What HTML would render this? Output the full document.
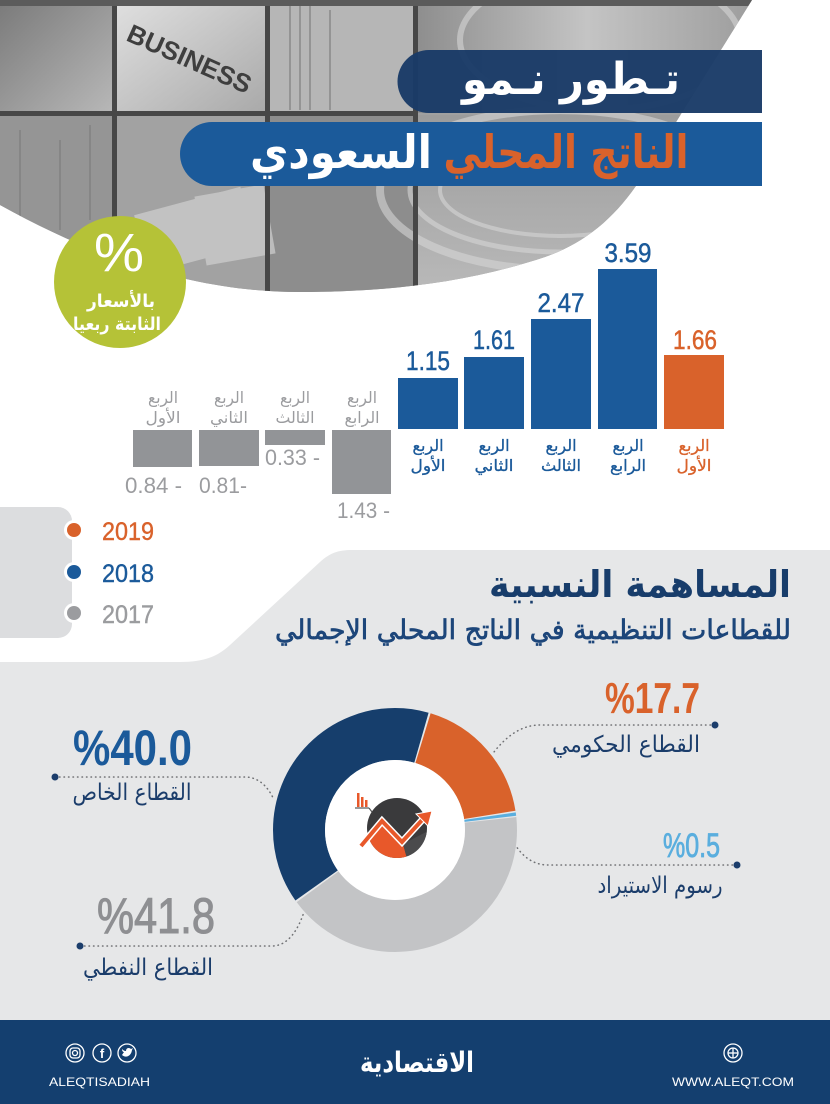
<!DOCTYPE html>
<html>
<head>
<meta charset="utf-8">
<style>
html,body{margin:0;padding:0;background:#ffffff;}
svg{display:block;}
.ar{font-family:"DejaVu Sans","Liberation Sans",sans-serif;}
.nm{font-family:"Liberation Sans","DejaVu Sans",sans-serif;}
</style>
</head>
<body>
<svg width="830" height="1104" viewBox="0 0 830 1104" xmlns="http://www.w3.org/2000/svg">
<defs>
  <clipPath id="ph"><path d="M0,0 H752 L640,180 C615,218 585,243 545,257 C470,282 390,292 300,292 C190,292 90,255 0,205 Z"/></clipPath>
  <linearGradient id="g1" x1="0" y1="0" x2="1" y2="1"><stop offset="0" stop-color="#7a7a7a"/><stop offset="1" stop-color="#b8b8b8"/></linearGradient>
  <linearGradient id="g2" x1="0" y1="0" x2="1" y2="1"><stop offset="0" stop-color="#e0e0e0"/><stop offset="1" stop-color="#a9a9a9"/></linearGradient>
  <linearGradient id="g3" x1="0" y1="0" x2="1" y2="0"><stop offset="0" stop-color="#8e8e8e"/><stop offset="0.5" stop-color="#c4c4c4"/><stop offset="1" stop-color="#9c9c9c"/></linearGradient>
  <linearGradient id="g4" x1="0" y1="0" x2="0" y2="1"><stop offset="0" stop-color="#9c9c9c"/><stop offset="1" stop-color="#bdbdbd"/></linearGradient>
  <clipPath id="ic"><circle cx="397" cy="828" r="30"/></clipPath>
</defs>

<!-- PHOTO HEADER -->
<g clip-path="url(#ph)">
  <rect x="0" y="0" width="830" height="300" fill="#a0a0a0"/>
  <rect x="0" y="0" width="114" height="113" fill="url(#g1)"/>
  <rect x="116" y="0" width="150" height="113" fill="url(#g2)"/>
  <rect x="268" y="0" width="147" height="113" fill="#b6b6b6"/>
  <rect x="417" y="0" width="340" height="113" fill="url(#g3)"/>
  <rect x="0" y="115" width="114" height="200" fill="#959595"/>
  <rect x="116" y="115" width="150" height="200" fill="#a2a2a2"/>
  <rect x="268" y="115" width="147" height="200" fill="#8d8d8d"/>
  <rect x="417" y="115" width="340" height="200" fill="url(#g4)"/>
  <g fill="none" stroke="#d6d6d6" opacity="0.6">
    <ellipse cx="560" cy="190" rx="180" ry="80" stroke-width="8"/>
    <ellipse cx="560" cy="190" rx="150" ry="62" stroke-width="5"/>
    <ellipse cx="560" cy="190" rx="120" ry="46" stroke-width="4"/>
    <ellipse cx="600" cy="40" rx="140" ry="70" stroke-width="6"/>
  </g>
  <g fill="none" stroke="#7e7e7e" stroke-width="2" opacity="0.6">
    <line x1="290" y1="0" x2="290" y2="110"/><line x1="300" y1="0" x2="300" y2="110"/>
    <line x1="310" y1="0" x2="310" y2="110"/><line x1="330" y1="10" x2="330" y2="110"/>
    <line x1="20" y1="130" x2="20" y2="230"/><line x1="60" y1="140" x2="60" y2="230"/>
    <line x1="90" y1="125" x2="90" y2="220"/>
  </g>
  <g fill="#d0d0d0" opacity="0.7">
    <rect x="140" y="200" width="110" height="60" transform="rotate(-15 195 230)"/>
    <rect x="200" y="190" width="70" height="70" transform="rotate(-10 235 225)"/>
  </g>
  <text x="125" y="40" class="nm" font-size="26" font-weight="bold" fill="#3e3e3e" transform="rotate(24 125 40)">BUSINESS</text>
  <rect x="112" y="0" width="5" height="300" fill="#474747"/>
  <rect x="265" y="0" width="5" height="300" fill="#474747"/>
  <rect x="413" y="0" width="5" height="300" fill="#474747"/>
  <rect x="0" y="111" width="418" height="5" fill="#474747"/>
  <rect x="0" y="0" width="760" height="6" fill="#5b5b5b"/>
</g>

<!-- TITLE BARS -->
<path d="M429,50 H762 V113 H429 A31.5,31.5 0 0 1 429,50 Z" fill="#193a67" opacity="0.96"/>
<text x="571" y="94" class="ar" font-size="44" font-weight="bold" fill="#ffffff" text-anchor="middle" textLength="218" lengthAdjust="spacingAndGlyphs">تـطور نـمو</text>
<path d="M212,122 H762 V186 H212 A32,32 0 0 1 212,122 Z" fill="#1b5a9a"/>
<text x="341" y="168" class="ar" font-size="46" font-weight="bold" fill="#ffffff" text-anchor="middle" textLength="182" lengthAdjust="spacingAndGlyphs">السعودي</text>
<text x="566" y="168" class="ar" font-size="46" font-weight="bold" fill="#d9622b" text-anchor="middle" textLength="245" lengthAdjust="spacingAndGlyphs">الناتج المحلي</text>

<!-- GREEN CIRCLE -->
<circle cx="120" cy="282" r="66" fill="#b5c237"/>
<text x="119" y="271" class="nm" font-size="54" fill="#ffffff" text-anchor="middle" textLength="50" lengthAdjust="spacingAndGlyphs">%</text>
<text x="121" y="307" class="ar" font-size="18" font-weight="bold" fill="#ffffff" text-anchor="middle" textLength="68" lengthAdjust="spacingAndGlyphs">بالأسعار</text>
<text x="117" y="330" class="ar" font-size="18" font-weight="bold" fill="#ffffff" text-anchor="middle" textLength="88" lengthAdjust="spacingAndGlyphs">الثابتة ربعيا</text>

<!-- BAR CHART: positive bars -->
<rect x="398" y="378" width="60" height="51" fill="#1b5a9a"/>
<rect x="464" y="357" width="60" height="72" fill="#1b5a9a"/>
<rect x="531" y="319" width="60" height="110" fill="#1b5a9a"/>
<rect x="598" y="269" width="59" height="160" fill="#1b5a9a"/>
<rect x="664" y="355" width="60" height="74" fill="#d9622b"/>

<g class="nm" font-size="27" text-anchor="middle" stroke-width="0.5">
  <text x="428" y="370" fill="#1b5a9a" stroke="#1b5a9a" textLength="44" lengthAdjust="spacingAndGlyphs">1.15</text>
  <text x="494" y="349" fill="#1b5a9a" stroke="#1b5a9a" textLength="42" lengthAdjust="spacingAndGlyphs">1.61</text>
  <text x="561" y="312" fill="#1b5a9a" stroke="#1b5a9a" textLength="47" lengthAdjust="spacingAndGlyphs">2.47</text>
  <text x="628" y="262" fill="#1b5a9a" stroke="#1b5a9a" textLength="47" lengthAdjust="spacingAndGlyphs">3.59</text>
  <text x="695" y="349" fill="#d9622b" stroke="#d9622b" textLength="44" lengthAdjust="spacingAndGlyphs">1.66</text>
</g>

<g class="ar" font-size="16" text-anchor="middle" fill="#1b5a9a" stroke="#1b5a9a" stroke-width="0.3">
  <text x="428" y="451" textLength="31" lengthAdjust="spacingAndGlyphs">الربع</text>
  <text x="428" y="471" textLength="35" lengthAdjust="spacingAndGlyphs">الأول</text>
  <text x="494" y="451" textLength="31" lengthAdjust="spacingAndGlyphs">الربع</text>
  <text x="494" y="471" textLength="39" lengthAdjust="spacingAndGlyphs">الثاني</text>
  <text x="561" y="451" textLength="31" lengthAdjust="spacingAndGlyphs">الربع</text>
  <text x="561" y="471" textLength="40" lengthAdjust="spacingAndGlyphs">الثالث</text>
  <text x="628" y="451" textLength="31" lengthAdjust="spacingAndGlyphs">الربع</text>
  <text x="628" y="471" textLength="36" lengthAdjust="spacingAndGlyphs">الرابع</text>
  <text x="694" y="451" textLength="31" lengthAdjust="spacingAndGlyphs" fill="#d9622b" stroke="#d9622b">الربع</text>
  <text x="694" y="471" textLength="35" lengthAdjust="spacingAndGlyphs" fill="#d9622b" stroke="#d9622b">الأول</text>
</g>

<!-- negative bars -->
<rect x="133" y="430" width="59" height="37" fill="#929497"/>
<rect x="199" y="430" width="60" height="36" fill="#929497"/>
<rect x="265" y="430" width="60" height="15" fill="#929497"/>
<rect x="332" y="430" width="59" height="64" fill="#929497"/>

<g class="ar" font-size="16" text-anchor="middle" fill="#9b9c9f">
  <text x="163" y="403" textLength="30" lengthAdjust="spacingAndGlyphs">الربع</text>
  <text x="163" y="423" textLength="35" lengthAdjust="spacingAndGlyphs">الأول</text>
  <text x="229" y="403" textLength="30" lengthAdjust="spacingAndGlyphs">الربع</text>
  <text x="229" y="423" textLength="38" lengthAdjust="spacingAndGlyphs">الثاني</text>
  <text x="295" y="403" textLength="30" lengthAdjust="spacingAndGlyphs">الربع</text>
  <text x="295" y="423" textLength="39" lengthAdjust="spacingAndGlyphs">الثالث</text>
  <text x="362" y="403" textLength="30" lengthAdjust="spacingAndGlyphs">الربع</text>
  <text x="362" y="423" textLength="35" lengthAdjust="spacingAndGlyphs">الرابع</text>
</g>

<g class="nm" font-size="22" fill="#9b9c9f">
  <text x="125" y="493" textLength="57" lengthAdjust="spacingAndGlyphs">0.84 -</text>
  <text x="199" y="493" textLength="48" lengthAdjust="spacingAndGlyphs">0.81-</text>
  <text x="265" y="465" textLength="55" lengthAdjust="spacingAndGlyphs">0.33 -</text>
  <text x="337" y="518" textLength="53" lengthAdjust="spacingAndGlyphs">1.43 -</text>
</g>

<!-- LEGEND PANEL -->
<rect x="-20" y="507" width="92" height="131" rx="14" fill="#dcdddf"/>
<circle cx="74" cy="530" r="10" fill="#ffffff"/><circle cx="74" cy="530" r="7" fill="#d9622b"/>
<circle cx="74" cy="572" r="10" fill="#ffffff"/><circle cx="74" cy="572" r="7" fill="#1b5a9a"/>
<circle cx="74" cy="613" r="10" fill="#ffffff"/><circle cx="74" cy="613" r="7" fill="#9b9c9f"/>
<g class="nm" font-size="25">
  <text x="102" y="540" fill="#d9622b" stroke="#d9622b" stroke-width="0.4" textLength="52" lengthAdjust="spacingAndGlyphs">2019</text>
  <text x="102" y="582" fill="#1b5a9a" stroke="#1b5a9a" stroke-width="0.4" textLength="52" lengthAdjust="spacingAndGlyphs">2018</text>
  <text x="102" y="623" fill="#9b9c9f" stroke="#9b9c9f" stroke-width="0.4" textLength="52" lengthAdjust="spacingAndGlyphs">2017</text>
</g>

<!-- SECTION PANEL -->
<path d="M0,662 H180 C205,662 218,656 230,645 L320,562 C330,553 338,550 352,550 H830 V1020 H0 Z" fill="#e6e7e8"/>
<text x="640" y="597" class="ar" font-size="37" font-weight="bold" fill="#183d6b" text-anchor="middle" textLength="302" lengthAdjust="spacingAndGlyphs">المساهمة النسبية</text>
<text x="533" y="639" class="ar" font-size="27" fill="#1d467a" stroke="#1d467a" stroke-width="0.7" text-anchor="middle" textLength="516" lengthAdjust="spacingAndGlyphs">للقطاعات التنظيمية في الناتج المحلي الإجمالي</text>

<!-- DONUT -->
<g fill="none" stroke-width="52" transform="rotate(-90 395 830)">
  <circle cx="395" cy="830" r="96" stroke="#d9622b" pathLength="360" stroke-dasharray="64 296" stroke-dashoffset="-17"/>
  <circle cx="395" cy="830" r="96" stroke="#5aaede" pathLength="360" stroke-dasharray="1.6 358.4" stroke-dashoffset="-81.8"/>
  <circle cx="395" cy="830" r="96" stroke="#c3c4c6" pathLength="360" stroke-dasharray="150 210" stroke-dashoffset="-84"/>
  <circle cx="395" cy="830" r="96" stroke="#163e6c" pathLength="360" stroke-dasharray="141 219" stroke-dashoffset="-235"/>
</g>
<circle cx="395" cy="830" r="70" fill="#ffffff"/>

<!-- center icon -->
<circle cx="397" cy="828" r="30" fill="#3a3a3c"/>
<g clip-path="url(#ic)">
  <path d="M362,842 L382,820 L403,844 L408,862 L355,862 Z" fill="#e8582a"/>
  <path d="M403,844 L408,862 L430,862 L430,830 Z" fill="#4a4a4c"/>
</g>
<polyline points="361,846 382,821 402,842 423,819" fill="none" stroke="#ffffff" stroke-width="7" stroke-linejoin="miter"/>
<polyline points="361,846 382,821 402,842 423,819" fill="none" stroke="#e8582a" stroke-width="4" stroke-linejoin="miter"/>
<polygon points="432,811 416,814 428,826" fill="#e8582a" stroke="#ffffff" stroke-width="1"/>
<rect x="357" y="793" width="2.5" height="14" fill="#e8582a"/>
<rect x="361" y="797" width="2.5" height="10" fill="#e8582a"/>
<rect x="365" y="800" width="2.5" height="7" fill="#e8582a"/>
<line x1="355" y1="808" x2="369" y2="808" stroke="#555" stroke-width="1.2"/>
<line x1="369" y1="808" x2="372" y2="812" stroke="#555" stroke-width="1.2"/>

<!-- dotted leaders -->
<g fill="none" stroke="#707174" stroke-width="1.5" stroke-dasharray="0.5 4" stroke-linecap="round">
  <path d="M715,725 H540 C520,725 505,738 494,752"/>
  <path d="M737,865 H548 C532,865 522,855 516,846"/>
  <path d="M55,777 H245 C258,777 268,786 274,800"/>
  <path d="M80,946 H272 C288,946 298,930 304,912"/>
</g>
<circle cx="715" cy="725" r="3.5" fill="#1b3d6b"/>
<circle cx="737" cy="865" r="3.5" fill="#1b3d6b"/>
<circle cx="55" cy="777" r="3.5" fill="#1b3d6b"/>
<circle cx="80" cy="946" r="3.5" fill="#1b3d6b"/>

<!-- percentage labels -->
<text x="605" y="713" class="nm" font-size="44" font-weight="bold" fill="#d9622b" textLength="95" lengthAdjust="spacingAndGlyphs">%17.7</text>
<text x="626" y="752" class="ar" font-size="23" fill="#1b3d6b" text-anchor="middle" textLength="148" lengthAdjust="spacingAndGlyphs">القطاع الحكومي</text>

<text x="663" y="857" class="nm" font-size="34" fill="#5aaede" stroke="#5aaede" stroke-width="0.8" textLength="57" lengthAdjust="spacingAndGlyphs">%0.5</text>
<text x="660" y="893" class="ar" font-size="23" fill="#1b3d6b" text-anchor="middle" textLength="125" lengthAdjust="spacingAndGlyphs">رسوم الاستيراد</text>

<text x="73" y="765" class="nm" font-size="50" font-weight="bold" fill="#1b5a9a" textLength="119" lengthAdjust="spacingAndGlyphs">%40.0</text>
<text x="132" y="800" class="ar" font-size="23" fill="#1b3d6b" text-anchor="middle" textLength="119" lengthAdjust="spacingAndGlyphs">القطاع الخاص</text>

<text x="97" y="933" class="nm" font-size="50" fill="#8e8f92" stroke="#8e8f92" stroke-width="1" textLength="118" lengthAdjust="spacingAndGlyphs">%41.8</text>
<text x="148" y="975" class="ar" font-size="23" fill="#1b3d6b" text-anchor="middle" textLength="130" lengthAdjust="spacingAndGlyphs">القطاع النفطي</text>

<!-- FOOTER -->
<rect x="0" y="1020" width="830" height="84" fill="#143f6f"/>
<g fill="none" stroke="#ffffff" stroke-width="1.3">
  <circle cx="75" cy="1053" r="9"/>
  <circle cx="102" cy="1053" r="9"/>
  <circle cx="127" cy="1053" r="9"/>
  <rect x="70" y="1048" width="10" height="10" rx="3"/>
  <circle cx="75" cy="1053" r="2.5"/>
  <circle cx="733" cy="1053" r="9"/>
  <circle cx="733" cy="1053" r="5"/>
  <line x1="728" y1="1053" x2="738" y2="1053"/>
  <line x1="733" y1="1048" x2="733" y2="1058"/>
</g>
<text x="102" y="1058" class="nm" font-size="13" font-weight="bold" fill="#ffffff" text-anchor="middle">f</text>
<path d="M122,1055 C125,1058 131,1057 132,1050 L133,1048 L131,1049 C129,1047 126,1048 126,1051 C124,1051 123,1050 122,1049 C122,1051 123,1052 124,1052 Z" fill="#ffffff"/>
<text x="49" y="1086" class="nm" font-size="12" fill="#ffffff" textLength="101" lengthAdjust="spacingAndGlyphs">ALEQTISADIAH</text>
<text x="672" y="1086" class="nm" font-size="12" fill="#ffffff" textLength="122" lengthAdjust="spacingAndGlyphs">WWW.ALEQT.COM</text>
<text x="417" y="1072" class="ar" font-size="28" font-weight="bold" fill="#ffffff" text-anchor="middle" textLength="114" lengthAdjust="spacingAndGlyphs">الاقتصادية</text>
</svg>
</body>
</html>
